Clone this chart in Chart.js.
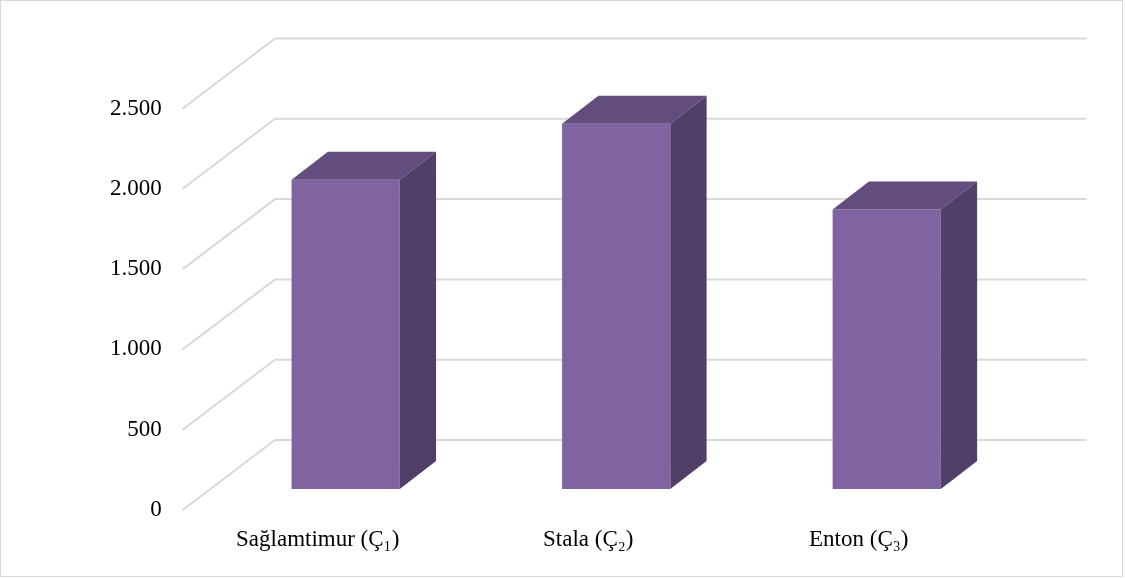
<!DOCTYPE html>
<html>
<head>
<meta charset="utf-8">
<script src="https://cdn.jsdelivr.net/npm/chart.js@4/dist/chart.umd.min.js"></script>
<style>
  html, body { margin: 0; padding: 0; background: #fff; }
  #wrap { position: relative; width: 1125px; height: 578px; }
  #frame { position: absolute; left: 0; top: 0; width: 1121px; height: 575px; border: 1px solid #d9d9d9; pointer-events: none; }
</style>
</head>
<body>
<div id="wrap">
  <canvas id="myChart" width="1125" height="578"></canvas>
  <div id="frame"></div>
</div>
<script>
var categories = ['Sağlamtimur (Ç₁)', 'Stala (Ç₂)', 'Enton (Ç₃)'];
var values = [1925, 2275, 1740];
var yTicks = [0, 500, 1000, 1500, 2000, 2500];
var yTickLabels = ['0', '500', '1.000', '1.500', '2.000', '2.500'];

// offsets of the floor/walls and bar depth, relative to the bar plane
var front = { x: -27.7, y: 21 };
var back = { x: 64.6, y: -49 };
var barDepth = { x: 36.3, y: -28 };

var walls = {
    id: 'walls',
    beforeDatasetsDraw: function(chart) {
        var ctx = chart.ctx;
        var ys = chart.scales.y;
        var area = chart.chartArea;
        ctx.save();
        ctx.strokeStyle = '#d9d9d9';
        ctx.lineWidth = 2;
        yTicks.forEach(function(v) {
            var py = ys.getPixelForValue(v);
            ctx.beginPath();
            ctx.moveTo(area.left + front.x, py + front.y);
            ctx.lineTo(area.left + back.x, py + back.y);
            ctx.lineTo(area.right + back.x, py + back.y);
            ctx.stroke();
        });
        ctx.restore();
    }
};

var boxes = {
    id: 'boxes',
    afterDatasetsDraw: function(chart) {
        var ctx = chart.ctx;
        ctx.save();
        chart.getDatasetMeta(0).data.forEach(function(bar) {
            var l = bar.x - bar.width / 2;
            var r = bar.x + bar.width / 2;
            var t = bar.y;
            var b = bar.base;
            // top face
            ctx.fillStyle = '#624d7e';
            ctx.beginPath();
            ctx.moveTo(l, t);
            ctx.lineTo(l + barDepth.x, t + barDepth.y);
            ctx.lineTo(r + barDepth.x, t + barDepth.y);
            ctx.lineTo(r, t);
            ctx.closePath();
            ctx.fill();
            // right side
            ctx.fillStyle = '#523f68';
            ctx.beginPath();
            ctx.moveTo(r, t);
            ctx.lineTo(r + barDepth.x, t + barDepth.y);
            ctx.lineTo(r + barDepth.x, b + barDepth.y);
            ctx.lineTo(r, b);
            ctx.closePath();
            ctx.fill();
        });
        ctx.restore();
    }
};

var ctx = document.getElementById('myChart').getContext('2d');
var myChart = new Chart(ctx, {
    type: 'bar',
    data: {
        labels: categories,
        datasets: [{
            data: values,
            backgroundColor: '#8064a2',
            borderWidth: 0,
            barPercentage: 0.4,
            categoryPercentage: 1
        }]
    },
    options: {
        responsive: false,
        animation: false,
        layout: { padding: { top: 87.5, right: 103, left: 0, bottom: 0 } },
        plugins: {
            legend: { display: false },
            tooltip: { enabled: false }
        },
        scales: {
            x: {
                grid: { display: false, drawTicks: false },
                border: { display: false },
                ticks: {
                    color: '#000',
                    font: { family: '"Liberation Serif", "Times New Roman", serif', size: 23 },
                    padding: 37,
                    labelOffset: -28,
                    maxRotation: 0
                },
                afterFit: function(s) { s.height = 89; }
            },
            y: {
                min: 0,
                max: 2500,
                grid: { display: false, drawTicks: false },
                border: { display: false },
                ticks: {
                    stepSize: 500,
                    color: '#000',
                    font: { family: '"Liberation Serif", "Times New Roman", serif', size: 23 },
                    padding: 48.7,
                    labelOffset: 21,
                    callback: function(v) {
                        var i = yTicks.indexOf(v);
                        return i >= 0 ? yTickLabels[i] : '';
                    }
                },
                afterFit: function(s) { s.width = 210.4; }
            }
        }
    },
    plugins: [walls, boxes]
});
</script>
</body>
</html>
